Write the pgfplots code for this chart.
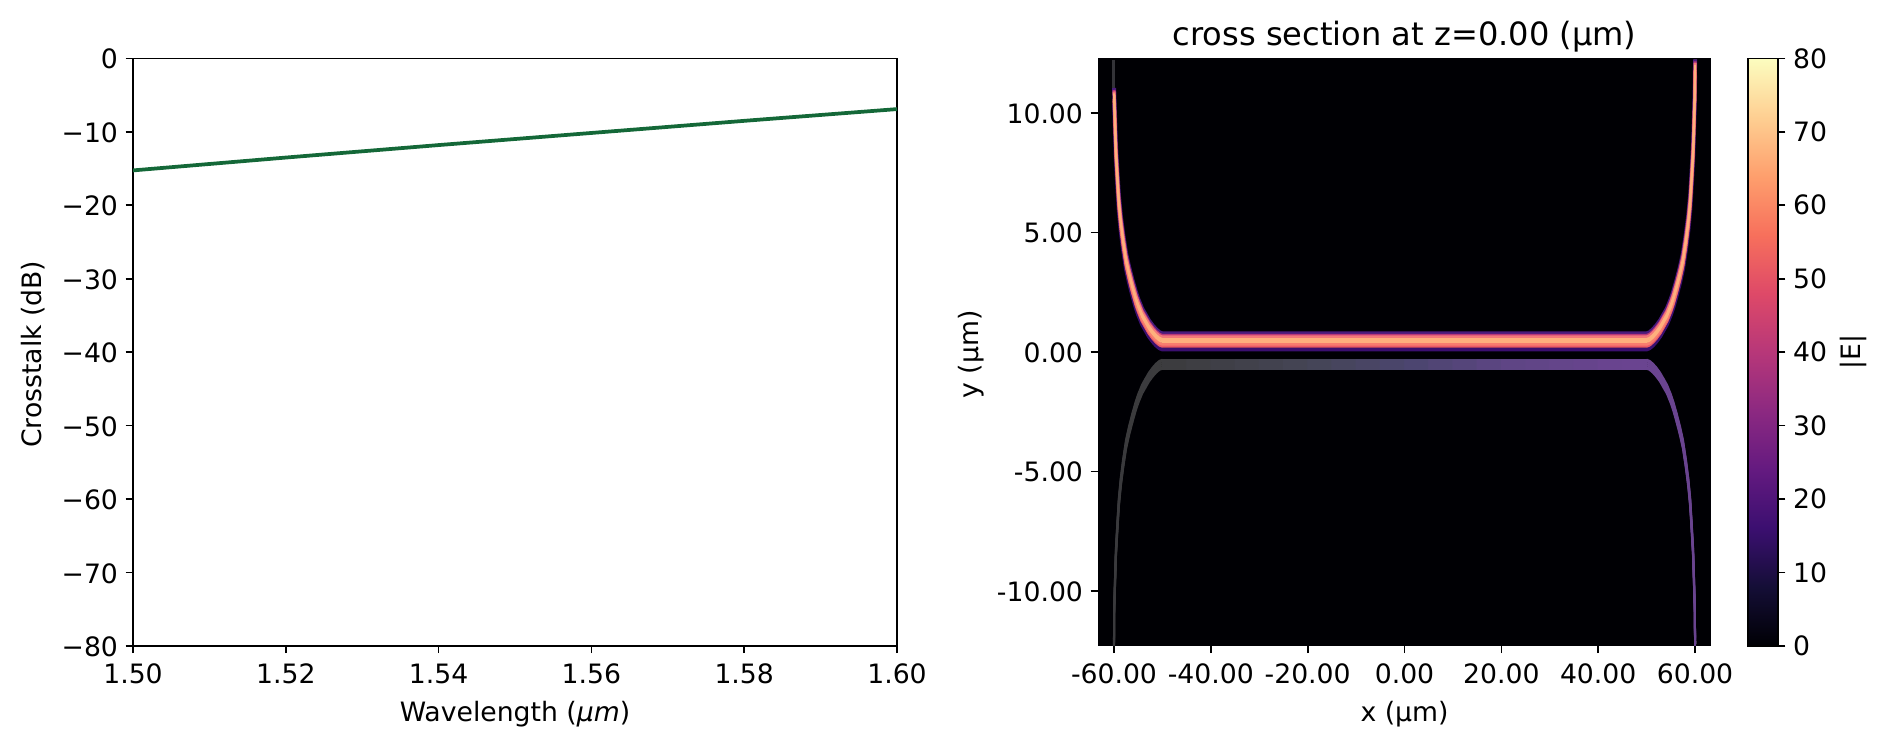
\documentclass[border=0pt]{standalone}
\usepackage{fontspec}
\setmainfont{DejaVu Sans}
\usepackage{pgfplots}
\usepackage{pgfplotstable}
\pgfplotsset{compat=1.18}
\definecolor{linegreen}{RGB}{20,104,56}
\definecolor{bgdark}{RGB}{0,0,4}
\definecolor{ppurpleT}{RGB}{74,26,124}
\definecolor{ppurpleB}{RGB}{59,15,112}
\definecolor{pmagenta}{RGB}{183,55,121}
\definecolor{psalmonT}{RGB}{244,119,122}
\definecolor{psalmonB}{RGB}{248,125,111}
\definecolor{pred}{RGB}{234,90,102}
\definecolor{ppeach}{RGB}{254,176,125}
\definecolor{graytail}{RGB}{51,51,56}
\pgfplotsset{
  colormap={magma}{
    rgb255(0cm)=(0,0,4); rgb255(1cm)=(20,14,54); rgb255(2cm)=(59,15,112);
    rgb255(3cm)=(100,26,128); rgb255(4cm)=(140,41,129); rgb255(5cm)=(183,55,121);
    rgb255(6cm)=(222,73,104); rgb255(7cm)=(247,112,92); rgb255(8cm)=(254,159,109);
    rgb255(9cm)=(254,207,146); rgb255(10cm)=(252,253,191)},
  colormap={lowband}{
    rgb255(0cm)=(58,58,61); rgb255(9cm)=(60,60,62); rgb255(35cm)=(69,69,87);
    rgb255(52cm)=(76,69,112); rgb255(69cm)=(95,69,133); rgb255(87cm)=(106,68,144);
    rgb255(100cm)=(106,68,144)},
  every axis/.append style={font=\fontsize{12.8}{15.4}\selectfont, line width=0.8pt},
  tick style={black, line width=0.8pt},
  major tick length=3.5pt,
  tick align=outside,
  every tick label/.append style={font=\fontsize{12.8}{15.4}\selectfont},
  minor tick num=0,
}
\pgfplotstableread{
x y
-59.97 10.75
-59.8 9.68
-59.6 8.38
-59.3 7.28
-59.0 6.28
-58.6 5.43
-58.1 4.63
-57.5 3.83
-56.9 3.28
-56.2 2.73
-55.5 2.23
-55.0 1.93
-54.2 1.53
-53.5 1.28
-52.8 1.03
-52.0 0.81
-51.3 0.65
-50.6 0.53
-50.0 0.48
50.0 0.48
50.6 0.53
51.3 0.65
52.0 0.81
52.8 1.03
53.5 1.28
54.2 1.53
55.0 1.93
55.5 2.23
56.2 2.73
56.9 3.28
57.5 3.83
58.1 4.63
58.6 5.43
59.0 6.28
59.3 7.28
59.6 8.38
59.8 9.68
59.97 10.88
60.0 11.95
}\uppertab
\pgfplotstableread{
x y
-60.0 -12.2
-59.97 -10.91
-59.8 -9.71
-59.6 -8.41
-59.3 -7.31
-59.0 -6.31
-58.6 -5.46
-58.1 -4.66
-57.5 -3.86
-56.9 -3.31
-56.2 -2.76
-55.5 -2.26
-55.0 -1.96
-54.2 -1.56
-53.5 -1.31
-52.8 -1.06
-52.0 -0.84
-51.3 -0.68
-50.6 -0.56
-50.0 -0.515
-45 -0.515
-40 -0.515
-35 -0.515
-30 -0.515
-25 -0.515
-20 -0.515
-15 -0.515
-10 -0.515
-5 -0.515
0 -0.515
5 -0.515
10 -0.515
15 -0.515
20 -0.515
25 -0.515
30 -0.515
35 -0.515
40 -0.515
45 -0.515
50.0 -0.515
50.6 -0.56
51.3 -0.68
52.0 -0.84
52.8 -1.06
53.5 -1.31
54.2 -1.56
55.0 -1.96
55.5 -2.26
56.2 -2.76
56.9 -3.31
57.5 -3.86
58.1 -4.66
58.6 -5.46
59.0 -6.31
59.3 -7.31
59.6 -8.41
59.8 -9.71
59.97 -10.91
60.0 -12.1
}\lowertab
\newcommand\upline[3]{\addplot[draw=#3, line width=#2, line join=round, no markers, forget plot] table[x=x, y expr={\thisrow{y}+(#1)}]{\uppertab};}
\newcommand\lowline[2]{\addplot[mesh, colormap name=lowband, line width=#2, line cap=round, no markers, forget plot, point meta={(\thisrow{x}+60)/1.5}] table[x=x, y expr={\thisrow{y}+(#1)}]{\lowertab};}
\begin{document}
\begin{tikzpicture}[x=1pt,y=1pt]
\path[use as bounding box] (0,0) rectangle (905.76,359.04);
\begin{axis}[
  at={(63.84pt,49.0pt)}, anchor=south west, scale only axis,
  width=366.72pt, height=282pt,
  xmin=1.5, xmax=1.6, ymin=-80, ymax=0,
  xtick pos=bottom, ytick pos=left,
  xtick={1.50,1.52,1.54,1.56,1.58,1.60},
  xticklabels={1.50,1.52,1.54,1.56,1.58,1.60},
  ytick={-80,-70,-60,-50,-40,-30,-20,-10,0},
  yticklabels={−80,−70,−60,−50,−40,−30,−20,−10,0},
  xticklabel style={yshift=-1.5pt},
  yticklabel style={yshift=-0.4pt},
  xlabel={Wavelength ({\itshape μm})},
  ylabel={Crosstalk (dB)},
  xlabel style={yshift=-1pt},
  ylabel style={yshift=1pt, xshift=-1pt},
]
\addplot[color=linegreen, line width=1.8pt, no markers] coordinates {
 (1.50,-15.25) (1.52,-13.5) (1.54,-11.8) (1.56,-10.15) (1.58,-8.5) (1.60,-6.9)};
\end{axis}
\begin{axis}[
  at={(527.04pt,49.0pt)}, anchor=south west, scale only axis,
  width=294.24pt, height=282pt,
  xmin=-63.3, xmax=63.3, ymin=-12.3, ymax=12.28,
  xtick pos=bottom, ytick pos=left,
  xtick={-60,-40,-20,0,20,40,60},
  xticklabels={-60.00,-40.00,-20.00,0.00,20.00,40.00,60.00},
  ytick={-10,-5,0,5,10},
  yticklabels={-10.00,-5.00,0.00,5.00,10.00},
  xticklabel style={yshift=-1.5pt},
  yticklabel style={yshift=-0.4pt},
  xlabel={x (μm)}, ylabel={y (μm)},
  xlabel style={yshift=-1pt},
  ylabel style={yshift=-0.7pt, xshift=-1pt},
  title={cross section at z=0.00 (μm)},
  title style={font=\fontsize{15.4}{18}\selectfont, yshift=-6.7pt},
  axis background/.style={fill=bgdark},
  axis line style={draw=none},
  colormap name=magma,
  point meta min=0, point meta max=80,
  colorbar,
  colorbar style={
    at={(parent axis.north east)}, anchor=north west, xshift=9.26pt,
    width=14.4pt, height=282pt,
    xtick=\empty,
    ytick pos=right,
    ytick={0,10,20,30,40,50,60,70,80},
    yticklabels={0,10,20,30,40,50,60,70,80},
    ylabel={|E|},
    ylabel style={yshift=1pt},
    axis line style={draw=black},
  },
]
\addplot[draw=graytail, line width=1.44pt, no markers, forget plot] coordinates {(-60,10.7) (-60,12.2)};
\addplot[draw=graytail, line width=1.44pt, no markers, forget plot] coordinates {(60,11.9) (60,12.25)};
\addplot[draw=graytail, line width=1.44pt, no markers, forget plot] coordinates {(60,-12.1) (60,-12.2)};
% upper band, outermost layers first
\upline{0.293}{1.92pt}{ppurpleT}
\upline{-0.376}{1.92pt}{ppurpleB}
\upline{0.209}{1.44pt}{pmagenta}
\upline{-0.242}{1.44pt}{pred}
\upline{0.146}{1.44pt}{psalmonT}
\upline{-0.159}{1.44pt}{psalmonB}
\upline{0.063}{0.9pt}{ppeach}
\upline{-0.063}{0.9pt}{ppeach}
\upline{0}{0.9pt}{ppeach}
% lower band
\lowline{0.188}{0.96pt}
\lowline{0.125}{0.96pt}
\lowline{0.042}{0.96pt}
\lowline{-0.042}{0.96pt}
\lowline{-0.125}{0.96pt}
\lowline{-0.188}{0.96pt}
\end{axis}
\end{tikzpicture}
\end{document}
